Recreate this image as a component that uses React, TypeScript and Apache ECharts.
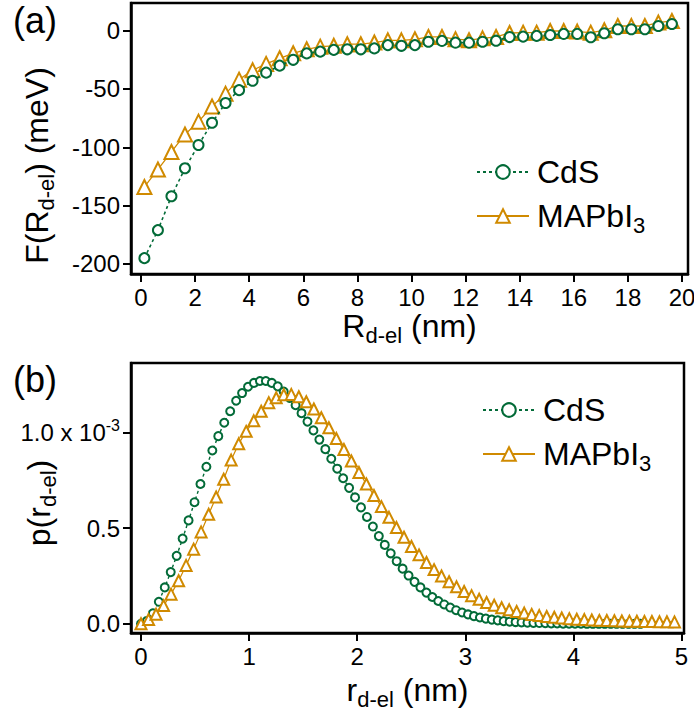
import React, { useEffect, useRef } from "react";
import * as echarts from "echarts";

const GREEN = "#036B38";
const GOLD = "#D08A00";
const FONT = "Liberation Sans, Arial, Helvetica, sans-serif";

// (a) free energy F(R) in meV vs. donor–electron distance R (nm)
const rTop = [
  0.125, 0.625, 1.125, 1.625, 2.125, 2.625, 3.125, 3.625, 4.125, 4.625,
  5.125, 5.625, 6.125, 6.625, 7.125, 7.625, 8.125, 8.625, 9.125, 9.625,
  10.125, 10.625, 11.125, 11.625, 12.125, 12.625, 13.125, 13.625, 14.125, 14.625,
  15.125, 15.625, 16.125, 16.625, 17.125, 17.625, 18.125, 18.625, 19.125, 19.625,
];
const fCdS = [
  -195, -171, -142, -118, -98, -79, -62, -51, -43, -36,
  -30, -25, -19.5, -18, -16.5, -16, -16, -15.2, -12.4, -13,
  -12.4, -9.5, -8.8, -10.3, -10.3, -9.5, -8.6, -5.5, -5.1, -4.5,
  -3.7, -2.8, -2.8, -5.7, -2.2, 1.2, 1.2, 1.2, 4.0, 5.7,
];
const fMAPbI3 = [
  -134, -119, -104, -89, -78, -65, -54, -42, -34, -28.5,
  -23.7, -19.4, -16, -13.7, -13.0, -11.6, -11.6, -10.2, -8.3, -8.3,
  -7.4, -5.4, -5.4, -7.3, -8.2, -6.6, -5.4, -2.0, -1.7, -1.7,
  -0.3, -0.3, -0.8, -1.7, 0.3, 4.0, 4.0, 4.0, 6.9, 8.3,
];

// (b) probability density p(r), in units of 1e-3
const rCdS = [
  0, 0.055, 0.11, 0.165, 0.22, 0.275, 0.33, 0.385, 0.44, 0.495,
  0.55, 0.605, 0.66, 0.715, 0.77, 0.825, 0.88, 0.935, 0.99, 1.045,
  1.1, 1.155, 1.21, 1.265, 1.32, 1.375, 1.43, 1.485, 1.54, 1.595,
  1.65, 1.705, 1.76, 1.815, 1.87, 1.925, 1.98, 2.035, 2.09, 2.145,
  2.2, 2.255, 2.31, 2.365, 2.42, 2.475, 2.53, 2.585, 2.64, 2.695,
  2.75, 2.805, 2.86, 2.915, 2.97, 3.025, 3.08, 3.135, 3.19, 3.245,
  3.3, 3.355, 3.41, 3.465, 3.52, 3.575, 3.63, 3.685, 3.74, 3.795,
  3.85, 3.905, 3.96, 4.015, 4.07, 4.125, 4.18, 4.235, 4.29, 4.345,
  4.4, 4.455, 4.51, 4.565, 4.62,
];
const pCdS = [
  0, 0.015, 0.055, 0.115, 0.19, 0.27, 0.355, 0.445, 0.54, 0.635,
  0.73, 0.82, 0.905, 0.98, 1.05, 1.11, 1.165, 1.205, 1.238, 1.258,
  1.268, 1.268, 1.258, 1.24, 1.213, 1.18, 1.142, 1.1, 1.056, 1.01,
  0.962, 0.912, 0.862, 0.81, 0.76, 0.71, 0.66, 0.608, 0.558, 0.508,
  0.458, 0.412, 0.368, 0.327, 0.288, 0.252, 0.219, 0.19, 0.163, 0.14,
  0.119, 0.101, 0.085, 0.071, 0.059, 0.049, 0.04, 0.033, 0.027, 0.022,
  0.018, 0.014, 0.011, 0.009, 0.007, 0.006, 0.005, 0.004, 0.003, 0.002,
  0.002, 0.001, 0.001, 0.001, 0.001, 0, 0, 0, 0, 0,
  0, 0, 0, 0, 0,
];
const rMAPbI3 = [
  0, 0.07, 0.139, 0.209, 0.278, 0.348, 0.417, 0.487, 0.556, 0.626,
  0.695, 0.765, 0.834, 0.904, 0.973, 1.043, 1.112, 1.182, 1.251, 1.321,
  1.39, 1.46, 1.529, 1.599, 1.668, 1.738, 1.807, 1.877, 1.946, 2.016,
  2.085, 2.155, 2.224, 2.294, 2.363, 2.433, 2.502, 2.572, 2.641, 2.711,
  2.78, 2.85, 2.919, 2.989, 3.058, 3.128, 3.197, 3.267, 3.336, 3.406,
  3.475, 3.545, 3.614, 3.684, 3.753, 3.823, 3.892, 3.962, 4.031, 4.101,
  4.17, 4.24, 4.309, 4.379, 4.448, 4.518, 4.587, 4.657, 4.726, 4.796,
  4.865, 4.935,
];
const pMAPbI3 = [
  0, 0.022, 0.05, 0.095, 0.155, 0.225, 0.305, 0.39, 0.48, 0.572,
  0.662, 0.755, 0.855, 0.94, 1.005, 1.06, 1.11, 1.155, 1.18, 1.196,
  1.198, 1.186, 1.16, 1.122, 1.076, 1.024, 0.968, 0.91, 0.85, 0.79,
  0.73, 0.67, 0.612, 0.556, 0.503, 0.452, 0.404, 0.36, 0.32, 0.283,
  0.25, 0.22, 0.193, 0.169, 0.147, 0.128, 0.111, 0.097, 0.084, 0.073,
  0.064, 0.056, 0.049, 0.043, 0.038, 0.034, 0.03, 0.027, 0.024, 0.022,
  0.02, 0.018, 0.017, 0.016, 0.015, 0.014, 0.013, 0.012, 0.012, 0.011,
  0.011, 0.01,
];

// tick positions
const xTicksA = [0, 2, 4, 6, 8, 10, 12, 14, 16, 18, 20];
const yTicksA = [-200, -150, -100, -50, 0];
const xTicksB = [0, 1, 2, 3, 4, 5];
const yTicksB = [0, 0.5, 1.0];

const seriesNames = ["CdS", "MAPbI3"];

const pairs = (xs: number[], ys: number[]) => xs.map((x, i) => [x, ys[i]]);

const titleRich = {
  m: { fontSize: 32, lineHeight: 40, fontFamily: FONT, color: "#000" },
  s: { fontSize: 22, lineHeight: 20, verticalAlign: "bottom", fontFamily: FONT, color: "#000" },
};

const baseAxis = (ticks: number[]) => ({
  type: "value",
  nameMoveOverlap: false,
  axisLine: { show: true, onZero: false, lineStyle: { color: "#000", width: 2.5 } },
  axisTick: {
    show: true,
    inside: false,
    length: 8,
    customValues: ticks,
    lineStyle: { color: "#000", width: 2 },
  },
  axisLabel: {
    customValues: ticks,
    fontSize: 24,
    color: "#000",
    fontFamily: FONT,
    margin: 11,
  },
  splitLine: { show: false },
});

const legendFormatter = (name: string) =>
  name === "MAPbI3" ? "{m|MAPbI}{s|3}" : "{m|" + name + "}";

const legendBase = {
  data: seriesNames,
  orient: "vertical",
  itemWidth: 52,
  itemHeight: 17,
  itemGap: 12,
  selectedMode: false,
  formatter: legendFormatter,
  textStyle: {
    padding: [0, 0, 0, 3],
    rich: titleRich,
  },
};

export default function App() {
  const ref = useRef<HTMLDivElement>(null);

  useEffect(() => {
    if (!ref.current) return;
    const chart = echarts.init(ref.current, undefined, { renderer: "svg" });

    const option = {
      animation: false,
      backgroundColor: "#fff",
      textStyle: { fontFamily: FONT },
      grid: [
        {
          left: 131, top: 3, width: 557, height: 271,
          show: true, borderColor: "#000", borderWidth: 2.5,
          outerBoundsMode: "none",
        },
        {
          left: 131, top: 363, width: 553, height: 270,
          show: true, borderColor: "#000", borderWidth: 2.5,
          outerBoundsMode: "none",
        },
      ],
      xAxis: [
        {
          ...baseAxis(xTicksA),
          gridIndex: 0,
          min: -0.37,
          max: 20.22,
          name: "{m|R}{s|d-el}{m| (nm)}",
          nameLocation: "middle",
          nameGap: 32,
          nameTextStyle: { rich: titleRich },
        },
        {
          ...baseAxis(xTicksB),
          gridIndex: 1,
          min: -0.0925,
          max: 5.023,
          name: "{m|r}{s|d-el}{m| (nm)}",
          nameLocation: "middle",
          nameGap: 37,
          nameTextStyle: { rich: titleRich },
        },
      ],
      yAxis: [
        {
          ...baseAxis(yTicksA),
          gridIndex: 0,
          min: -208.6,
          max: 23.7,
          name: "{m|F(R}{s|d-el}{m|) (meV)}",
          nameLocation: "middle",
          nameGap: 74,
          nameTextStyle: { rich: titleRich, padding: [0, 54, 0, 0] },
        },
        {
          ...baseAxis(yTicksB),
          gridIndex: 1,
          min: -0.048,
          max: 1.362,
          axisLabel: {
            ...baseAxis(yTicksB).axisLabel,
            formatter: (v: number) =>
              Math.abs(v - 1) < 1e-9 ? "{n|1.0 x 10}{sup|-3}" : v.toFixed(1),
            rich: {
              n: { fontSize: 24, lineHeight: 30, fontFamily: FONT, color: "#000" },
              sup: { fontSize: 16, lineHeight: 16, verticalAlign: "top", fontFamily: FONT, color: "#000" },
            },
          },
          name: "{m|p(r}{s|d-el}{m|)}",
          nameLocation: "middle",
          nameGap: 72,
          nameTextStyle: { rich: titleRich, padding: [0, 10, 0, 0] },
        },
      ],
      legend: [
        { ...legendBase, left: 471, top: 151 },
        { ...legendBase, left: 477, top: 389 },
      ],
      graphic: [
        {
          type: "text", x: 13, y: 20,
          style: { text: "(a)", fontSize: 36, fontFamily: FONT, fill: "#000", verticalAlign: "middle" },
        },
        {
          type: "text", x: 13, y: 379,
          style: { text: "(b)", fontSize: 36, fontFamily: FONT, fill: "#000", verticalAlign: "middle" },
        },
      ],
      series: [
        {
          name: "MAPbI3",
          type: "line",
          xAxisIndex: 0, yAxisIndex: 0,
          data: pairs(rTop, fMAPbI3),
          symbol: "emptyTriangle",
          symbolSize: 14,
          showAllSymbol: true,
          itemStyle: { color: GOLD, borderWidth: 2.6 },
          lineStyle: { color: GOLD, width: 1.3 },
          z: 2,
        },
        {
          name: "CdS",
          type: "line",
          xAxisIndex: 0, yAxisIndex: 0,
          data: pairs(rTop, fCdS),
          symbol: "emptyCircle",
          symbolSize: 10,
          showAllSymbol: true,
          itemStyle: { color: GREEN, borderWidth: 3 },
          lineStyle: { color: GREEN, width: 1.6, type: [3, 3] },
          z: 3,
        },
        {
          name: "CdS",
          type: "line",
          xAxisIndex: 1, yAxisIndex: 1,
          data: pairs(rCdS, pCdS),
          symbol: "emptyCircle",
          symbolSize: 8,
          showAllSymbol: true,
          itemStyle: { color: GREEN, borderWidth: 2.5 },
          lineStyle: { color: GREEN, width: 1.4, type: [3, 3] },
          z: 2,
        },
        {
          name: "MAPbI3",
          type: "line",
          xAxisIndex: 1, yAxisIndex: 1,
          data: pairs(rMAPbI3, pMAPbI3),
          symbol: "emptyTriangle",
          symbolSize: 11,
          showAllSymbol: true,
          itemStyle: { color: GOLD, borderWidth: 2.5 },
          lineStyle: { color: GOLD, width: 1.2 },
          z: 3,
        },
      ],
    };

    chart.setOption(option as any);
    return () => chart.dispose();
  }, []);

  return (
    <div
      ref={ref}
      style={{ position: "fixed", left: 0, top: 0, width: 694, height: 712 }}
    />
  );
}
